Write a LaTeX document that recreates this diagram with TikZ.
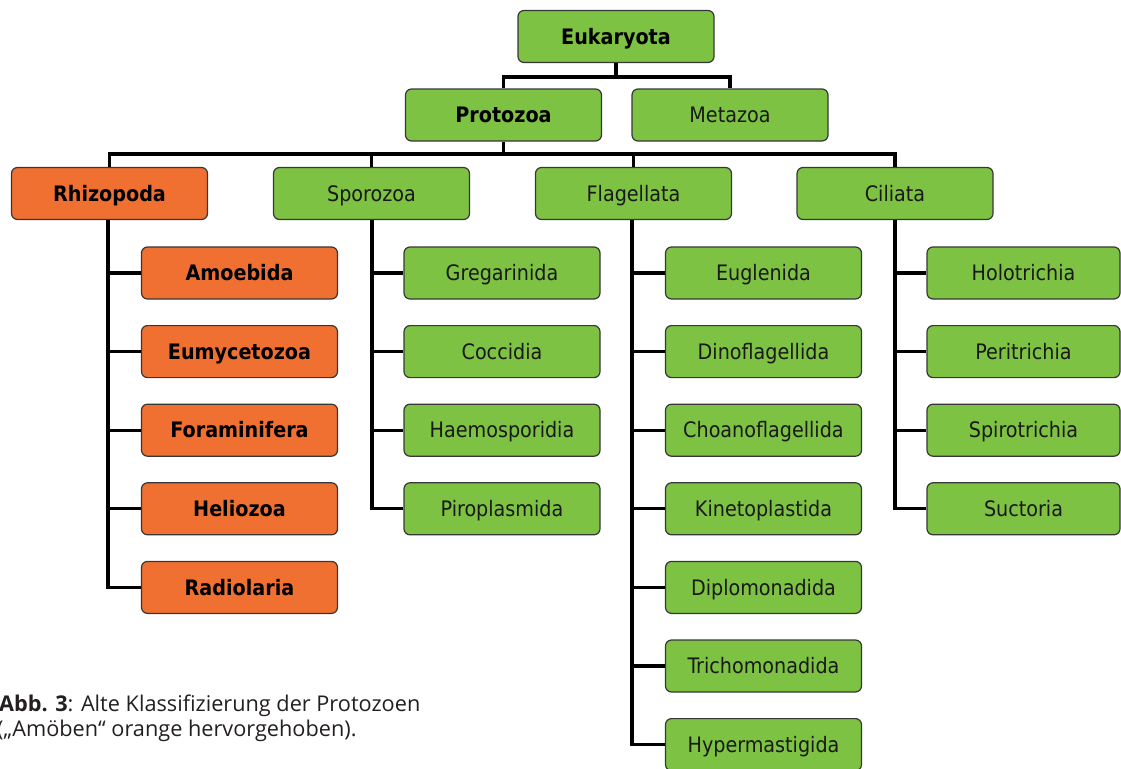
\documentclass[tikz,border=0pt]{standalone}
\usepackage{fontspec}
\newfontfamily\boxfont{DejaVu Sans Condensed}
\newfontfamily\capfont{Open Sans}
\definecolor{boxgreen}{RGB}{125,194,66}
\definecolor{boxorange}{RGB}{240,112,50}
\definecolor{boxline}{RGB}{55,55,55}
\definecolor{captext}{RGB}{35,31,32}
\tikzset{
  tbox/.style={draw=boxline, line width=1.2pt, rounded corners=6pt,
    minimum width=196pt, minimum height=52pt, inner sep=0pt,
    text height=15.5pt, text depth=0pt,
    font=\boxfont\fontsize{21.3}{24}\selectfont, text=black!90},
  gbox/.style={tbox, fill=boxgreen},
  obox/.style={tbox, fill=boxorange},
  bld/.style={font=\boxfont\bfseries\fontsize{21.3}{24}\selectfont, text=black},
  conn/.style={draw=black, line width=3.1pt},
  captxt/.style={anchor=base west, inner sep=0pt, text=captext,
    font=\capfont\fontsize{21.7}{25}\selectfont}
}
\begin{document}
\begin{tikzpicture}[x=1pt,y=-1pt]
\useasboundingbox (0,0) rectangle (1121,768);
% top
\node[gbox,bld] (euk) at (616,36.5) {Eukaryota};
\node[gbox,bld] (proto) at (503.5,115) {Protozoa};
\node[gbox] (meta) at (730,115) {Metazoa};
% level 2
\node[obox,bld] (rhizo) at (109.5,193.5) {Rhizopoda};
\node[gbox] (spor) at (371.5,193.5) {Sporozoa};
\node[gbox] (flag) at (633.5,193.5) {Flagellata};
\node[gbox] (cil) at (895,193.5) {Ciliata};
% Rhizopoda children
\node[obox,bld] (r1) at (239.5,273) {Amoebida};
\node[obox,bld] (r2) at (239.5,351.6) {Eumycetozoa};
\node[obox,bld] (r3) at (239.5,430.2) {Foraminifera};
\node[obox,bld] (r4) at (239.5,508.8) {Heliozoa};
\node[obox,bld] (r5) at (239.5,587.4) {Radiolaria};
% Sporozoa children
\node[gbox] (s1) at (502,273) {Gregarinida};
\node[gbox] (s2) at (502,351.6) {Coccidia};
\node[gbox] (s3) at (502,430.2) {Haemosporidia};
\node[gbox] (s4) at (502,508.8) {Piroplasmida};
% Flagellata children
\node[gbox] (f1) at (763.5,273) {Euglenida};
\node[gbox] (f2) at (763.5,351.6) {Dinoflagellida};
\node[gbox] (f3) at (763.5,430.2) {Choanoflagellida};
\node[gbox] (f4) at (763.5,508.8) {Kinetoplastida};
\node[gbox] (f5) at (763.5,587.4) {Diplomonadida};
\node[gbox] (f6) at (763.5,666) {Trichomonadida};
\node[gbox] (f7) at (763.5,744.6) {Hypermastigida};
% Ciliata children
\node[gbox, minimum width=193pt] (c1) at (1023.5,273) {Holotrichia};
\node[gbox, minimum width=193pt] (c2) at (1023.5,351.6) {Peritrichia};
\node[gbox, minimum width=193pt] (c3) at (1023.5,430.2) {Spirotrichia};
\node[gbox, minimum width=193pt] (c4) at (1023.5,508.8) {Suctoria};
% buses
\coordinate (bus1) at (616,77);
\coordinate (bus2) at (503.5,154);
\draw[conn] (euk.south) -- (bus1);
\draw[conn] (proto.north) |- (bus1) -| (meta.north);
\draw[conn] (proto.south) -- (bus2);
\draw[conn] (rhizo.north) |- (bus2) -| (cil.north);
\draw[conn] (spor.north) |- (bus2);
\draw[conn] (flag.north) |- (bus2);
% child connectors
\coordinate (rv) at (108,220);
\coordinate (sv) at (372,220);
\coordinate (fv) at (632,220);
\coordinate (cv) at (895,220);
\foreach \n in {r1,r2,r3,r4,r5} \draw[conn] (rv) |- (\n.west);
\foreach \n in {s1,s2,s3,s4} \draw[conn] (sv) |- (\n.west);
\foreach \n in {f1,f2,f3,f4,f5,f6,f7} \draw[conn] (fv) |- (\n.west);
\foreach \n in {c1,c2,c3,c4} \draw[conn] (cv) |- (\n.west);
% caption
\node[captxt] (cap1) at (-1,711) {\textbf{Abb. 3}: Alte Klassifizierung der Protozoen};
\node[captxt] (cap2) at (-3,736) {(„Amöben“ orange hervorgehoben).};
\end{tikzpicture}
\end{document}
